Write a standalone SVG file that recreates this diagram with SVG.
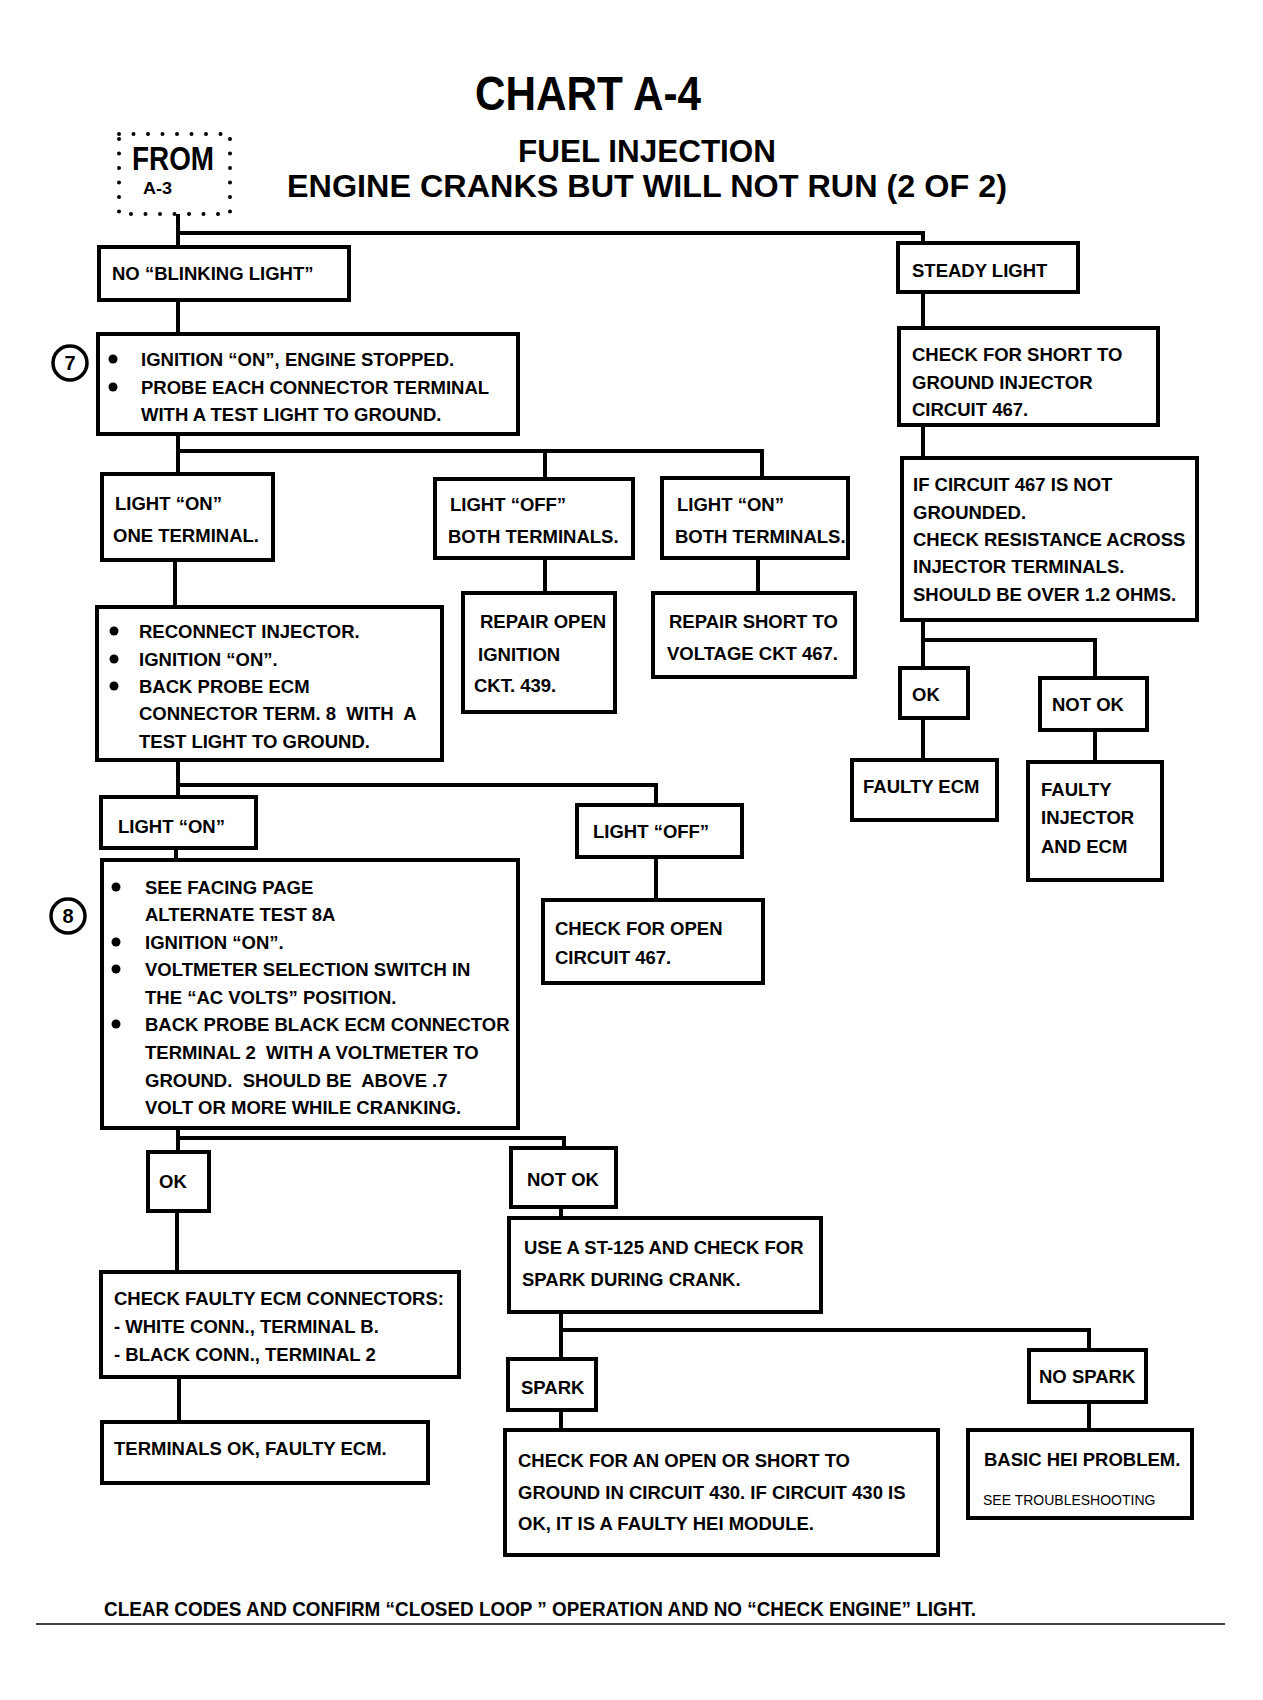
<svg xmlns="http://www.w3.org/2000/svg" width="1263" height="1700" viewBox="0 0 1263 1700">
<style>
.box{fill:#fff;stroke:#000;stroke-width:4}
.c{fill:none;stroke:#000;stroke-width:4}
.t{font-family:"Liberation Sans",Arial,sans-serif;font-weight:bold;font-size:18.5px;fill:#000;white-space:pre}
.h{font-family:"Liberation Sans",Arial,sans-serif;font-weight:bold;fill:#000}
.s{font-family:"Liberation Sans",Arial,sans-serif;font-size:14px;fill:#000}
.ring{fill:#fff;stroke:#000;stroke-width:3.5}
.dot{fill:#000}
</style>
<rect width="1263" height="1700" fill="#fff"/>
<g id="title">
<text class="h" x="475" y="110" font-size="48" textLength="226" lengthAdjust="spacingAndGlyphs">CHART A-4</text>
<text class="h" x="518" y="162" font-size="31" textLength="258" lengthAdjust="spacingAndGlyphs">FUEL INJECTION</text>
<text class="h" x="287" y="197" font-size="31" textLength="720" lengthAdjust="spacingAndGlyphs">ENGINE CRANKS BUT WILL NOT RUN (2 OF 2)</text>
</g>
<g id="connectors">
<path class="c" d="M178,214 V247 M178,233 H923 V243"/>
<path class="c" d="M178,300 V334"/>
<path class="c" d="M178,434 V474 M178,451 H762 V478 M545,451 V479"/>
<path class="c" d="M545,558 V593 M758,558 V593"/>
<path class="c" d="M175,560 V607"/>
<path class="c" d="M178,760 V797 M178,785 H656 V805"/>
<path class="c" d="M176,848 V860"/>
<path class="c" d="M656,857 V900"/>
<path class="c" d="M178,1128 V1152 M178,1138 H564 V1148"/>
<path class="c" d="M177,1211 V1272 M179,1377 V1422"/>
<path class="c" d="M561,1207 V1218 M561,1312 V1359 M561,1330 H1089 V1350 M1089,1402 V1430 M561,1410 V1430"/>
<path class="c" d="M923,292 V328 M923,425 V458 M923,620 V668 M923,640 H1095 V678 M923,718 V760 M1095,730 V762"/>
</g>
<g id="from">
<rect x="119" y="134" width="111" height="80" fill="none" stroke="#000" stroke-width="4" stroke-linecap="round" stroke-dasharray="0 14.5"/>
<text class="h" x="132" y="170" font-size="34" textLength="82" lengthAdjust="spacingAndGlyphs">FROM</text>
<text class="h" x="143" y="194" font-size="16" textLength="29" lengthAdjust="spacingAndGlyphs">A-3</text>
</g>
<g id="no-blinking">
<rect class="box" x="99" y="247" width="250" height="53"/>
<text class="t" x="112" y="280">NO “BLINKING LIGHT”</text>
</g>
<g id="step7">
<circle class="ring" cx="70" cy="363" r="17"/>
<text class="h" x="70" y="370" font-size="20" text-anchor="middle">7</text>
<rect class="box" x="98" y="334" width="420" height="100"/>
<circle class="dot" cx="113" cy="359" r="4.5"/>
<circle class="dot" cx="113" cy="387" r="4.5"/>
<text class="t" x="141" y="366">IGNITION “ON”, ENGINE STOPPED.</text>
<text class="t" x="141" y="394">PROBE EACH CONNECTOR TERMINAL</text>
<text class="t" x="141" y="421">WITH A TEST LIGHT TO GROUND.</text>
</g>
<g id="on-one">
<rect class="box" x="102" y="474" width="171" height="86"/>
<text class="t" x="115" y="510">LIGHT “ON”</text>
<text class="t" x="113" y="542">ONE TERMINAL.</text>
</g>
<g id="off-both">
<rect class="box" x="435" y="479" width="198" height="79"/>
<text class="t" x="450" y="511">LIGHT “OFF”</text>
<text class="t" x="448" y="543">BOTH TERMINALS.</text>
</g>
<g id="on-both">
<rect class="box" x="662" y="478" width="186" height="80"/>
<text class="t" x="677" y="511">LIGHT “ON”</text>
<text class="t" x="675" y="543">BOTH TERMINALS.</text>
</g>
<g id="repair-open">
<rect class="box" x="463" y="593" width="152" height="119"/>
<text class="t" x="480" y="628">REPAIR OPEN</text>
<text class="t" x="478" y="661">IGNITION</text>
<text class="t" x="474" y="692">CKT. 439.</text>
</g>
<g id="repair-short">
<rect class="box" x="653" y="593" width="202" height="84"/>
<text class="t" x="669" y="628">REPAIR SHORT TO</text>
<text class="t" x="667" y="660">VOLTAGE CKT 467.</text>
</g>
<g id="reconnect">
<rect class="box" x="97" y="607" width="345" height="153"/>
<circle class="dot" cx="114" cy="631" r="4.5"/>
<circle class="dot" cx="114" cy="659" r="4.5"/>
<circle class="dot" cx="114" cy="686" r="4.5"/>
<text class="t" x="139" y="638">RECONNECT INJECTOR.</text>
<text class="t" x="139" y="666">IGNITION “ON”.</text>
<text class="t" x="139" y="693">BACK PROBE ECM</text>
<text class="t" x="139" y="720" xml:space="preserve">CONNECTOR TERM. 8  WITH  A</text>
<text class="t" x="139" y="748">TEST LIGHT TO GROUND.</text>
</g>
<g id="on-2">
<rect class="box" x="101" y="797" width="155" height="51"/>
<text class="t" x="118" y="833">LIGHT “ON”</text>
</g>
<g id="off-2">
<rect class="box" x="577" y="805" width="165" height="52"/>
<text class="t" x="593" y="838">LIGHT “OFF”</text>
</g>
<g id="check-open">
<rect class="box" x="543" y="900" width="220" height="83"/>
<text class="t" x="555" y="935">CHECK FOR OPEN</text>
<text class="t" x="555" y="964">CIRCUIT 467.</text>
</g>
<g id="step8">
<circle class="ring" cx="68" cy="916" r="17"/>
<text class="h" x="68" y="923" font-size="20" text-anchor="middle">8</text>
<rect class="box" x="102" y="860" width="416" height="268"/>
<circle class="dot" cx="116" cy="887" r="4.5"/>
<circle class="dot" cx="116" cy="942" r="4.5"/>
<circle class="dot" cx="116" cy="969" r="4.5"/>
<circle class="dot" cx="116" cy="1024" r="4.5"/>
<text class="t" x="145" y="894">SEE FACING PAGE</text>
<text class="t" x="145" y="921">ALTERNATE TEST 8A</text>
<text class="t" x="145" y="949">IGNITION “ON”.</text>
<text class="t" x="145" y="976">VOLTMETER SELECTION SWITCH IN</text>
<text class="t" x="145" y="1004">THE “AC VOLTS” POSITION.</text>
<text class="t" x="145" y="1031">BACK PROBE BLACK ECM CONNECTOR</text>
<text class="t" x="145" y="1059" xml:space="preserve">TERMINAL 2  WITH A VOLTMETER TO</text>
<text class="t" x="145" y="1087" xml:space="preserve">GROUND.  SHOULD BE  ABOVE .7</text>
<text class="t" x="145" y="1114">VOLT OR MORE WHILE CRANKING.</text>
</g>
<g id="ok-2">
<rect class="box" x="148" y="1152" width="61" height="59"/>
<text class="t" x="159" y="1188">OK</text>
</g>
<g id="not-ok-2">
<rect class="box" x="511" y="1148" width="105" height="59"/>
<text class="t" x="527" y="1186">NOT OK</text>
</g>
<g id="check-ecm">
<rect class="box" x="101" y="1272" width="358" height="105"/>
<text class="t" x="114" y="1305">CHECK FAULTY ECM CONNECTORS:</text>
<text class="t" x="114" y="1333">- WHITE CONN., TERMINAL B.</text>
<text class="t" x="114" y="1361">- BLACK CONN., TERMINAL 2</text>
</g>
<g id="terminals-ok">
<rect class="box" x="102" y="1422" width="326" height="61"/>
<text class="t" x="114" y="1455">TERMINALS OK, FAULTY ECM.</text>
</g>
<g id="use-st125">
<rect class="box" x="509" y="1218" width="312" height="94"/>
<text class="t" x="524" y="1254">USE A ST-125 AND CHECK FOR</text>
<text class="t" x="522" y="1286">SPARK DURING CRANK.</text>
</g>
<g id="spark">
<rect class="box" x="508" y="1359" width="88" height="51"/>
<text class="t" x="521" y="1394">SPARK</text>
</g>
<g id="no-spark">
<rect class="box" x="1029" y="1350" width="117" height="52"/>
<text class="t" x="1039" y="1383">NO SPARK</text>
</g>
<g id="check-430">
<rect class="box" x="505" y="1430" width="433" height="125"/>
<text class="t" x="518" y="1467">CHECK FOR AN OPEN OR SHORT TO</text>
<text class="t" x="518" y="1499">GROUND IN CIRCUIT 430. IF CIRCUIT 430 IS</text>
<text class="t" x="518" y="1530">OK, IT IS A FAULTY HEI MODULE.</text>
</g>
<g id="basic-hei">
<rect class="box" x="968" y="1430" width="224" height="88"/>
<text class="t" x="984" y="1466">BASIC HEI PROBLEM.</text>
<text class="s" x="983" y="1505">SEE TROUBLESHOOTING</text>
</g>
<g id="steady">
<rect class="box" x="898" y="243" width="180" height="49"/>
<text class="t" x="912" y="277">STEADY LIGHT</text>
</g>
<g id="check-short">
<rect class="box" x="899" y="328" width="259" height="97"/>
<text class="t" x="912" y="361">CHECK FOR SHORT TO</text>
<text class="t" x="912" y="389">GROUND INJECTOR</text>
<text class="t" x="912" y="416">CIRCUIT 467.</text>
</g>
<g id="if-circuit">
<rect class="box" x="902" y="458" width="295" height="162"/>
<text class="t" x="913" y="491">IF CIRCUIT 467 IS NOT</text>
<text class="t" x="913" y="519">GROUNDED.</text>
<text class="t" x="913" y="546">CHECK RESISTANCE ACROSS</text>
<text class="t" x="913" y="573">INJECTOR TERMINALS.</text>
<text class="t" x="913" y="601">SHOULD BE OVER 1.2 OHMS.</text>
</g>
<g id="ok-1">
<rect class="box" x="900" y="668" width="68" height="50"/>
<text class="t" x="912" y="701">OK</text>
</g>
<g id="not-ok-1">
<rect class="box" x="1040" y="678" width="107" height="52"/>
<text class="t" x="1052" y="711">NOT OK</text>
</g>
<g id="faulty-ecm">
<rect class="box" x="852" y="760" width="145" height="60"/>
<text class="t" x="863" y="793">FAULTY ECM</text>
</g>
<g id="faulty-injector">
<rect class="box" x="1028" y="762" width="134" height="118"/>
<text class="t" x="1041" y="796">FAULTY</text>
<text class="t" x="1041" y="824">INJECTOR</text>
<text class="t" x="1041" y="853">AND ECM</text>
</g>
<g id="footer">
<text class="h" x="104" y="1616" font-size="20" textLength="872" lengthAdjust="spacingAndGlyphs">CLEAR CODES AND CONFIRM “CLOSED LOOP ” OPERATION AND NO “CHECK ENGINE” LIGHT.</text>
<line x1="36" y1="1624" x2="1225" y2="1624" stroke="#000" stroke-width="1.5"/>
</g>
</svg>
